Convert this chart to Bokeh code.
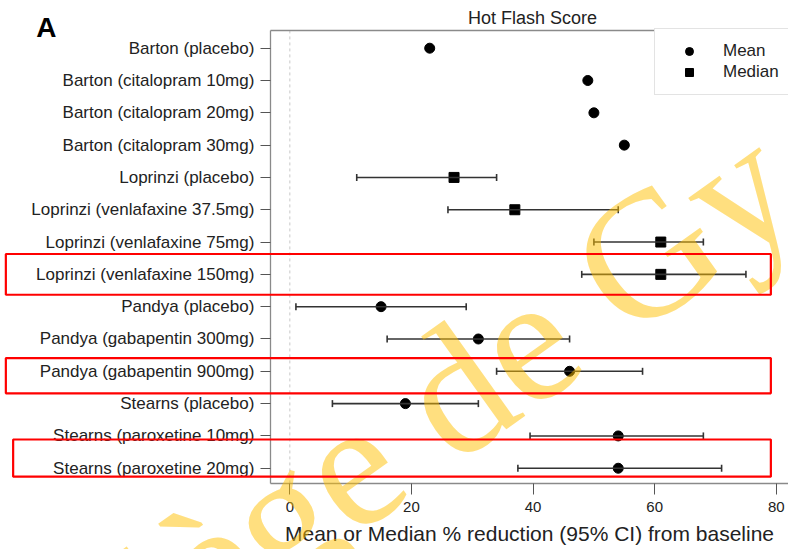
import math

from bokeh.embed import file_html
from bokeh.models import (BoxAnnotation, ColumnDataSource, FixedTicker, Label, Legend,
                          LegendItem, LinearAxis, Range1d, TeeHead, Whisker)
from bokeh.plotting import figure
from bokeh.resources import INLINE

# ---- data -------------------------------------------------------------
studies = [
    "Barton (placebo)",
    "Barton (citalopram 10mg)",
    "Barton (citalopram 20mg)",
    "Barton (citalopram 30mg)",
    "Loprinzi (placebo)",
    "Loprinzi (venlafaxine 37.5mg)",
    "Loprinzi (venlafaxine 75mg)",
    "Loprinzi (venlafaxine 150mg)",
    "Pandya (placebo)",
    "Pandya (gabapentin 300mg)",
    "Pandya (gabapentin 900mg)",
    "Stearns (placebo)",
    "Stearns (paroxetine 10mg)",
    "Stearns (paroxetine 20mg)",
]
estimate = [23, 49, 50, 55, 27, 37, 61, 61, 15, 31, 46, 19, 54, 54]
ci_lower = [None, None, None, None, 11, 26, 50, 48, 1, 16, 34, 7, 39.5, 37.5]
ci_upper = [None, None, None, None, 34, 54, 68, 75, 29, 46, 58, 31, 68, 71]
statistic = ["Mean"] * 4 + ["Median"] * 4 + ["Mean"] * 6
x_ticks = [0, 20, 40, 60, 80]
highlighted = [
    "Loprinzi (venlafaxine 150mg)",
    "Pandya (gabapentin 900mg)",
    "Stearns (paroxetine 20mg)",
]

rows = list(range(1, len(studies) + 1))

# ---- sources ------------------------------------------------------------
def pick(stat):
    idx = [i for i, s in enumerate(statistic) if s == stat]
    return ColumnDataSource(dict(row=[rows[i] for i in idx], est=[estimate[i] for i in idx]))

mean_src = pick("Mean")
median_src = pick("Median")
ci_idx = [i for i in range(len(studies)) if ci_lower[i] is not None]
ci_src = ColumnDataSource(dict(
    row=[rows[i] for i in ci_idx],
    lo=[ci_lower[i] for i in ci_idx],
    hi=[ci_upper[i] for i in ci_idx],
))

# ---- layout constants ---------------------------------------------------
INK = "#222222"
FRAME = "#8a8a8a"
FONT = "Liberation Sans"

# panel box in data units (the canvas itself is the plotting area, the
# axes sit at fixed positions inside it)
X_LO, X_HI = -3.2, 82.0
Y_TOP, Y_BOT = 0.45, 14.47

p = figure(
    width=788, height=549,
    x_range=Range1d(-47.58, 82.0),
    y_range=Range1d(16.515, -0.476),
    x_axis_type=None, y_axis_type=None,
    output_backend="svg", toolbar_location=None,
    min_border=0,
)
p.outline_line_color = None
p.background_fill_color = "white"
p.border_fill_color = "white"

# x axis along the bottom of the panel box
xa = LinearAxis(fixed_location=Y_BOT, bounds=(X_LO, X_HI))
xa.ticker = FixedTicker(ticks=x_ticks)
xa.axis_line_color = FRAME
xa.axis_line_width = 1.3
xa.major_tick_line_color = "#555555"
xa.major_tick_out = 11
xa.major_tick_in = 0
xa.minor_tick_line_color = None
xa.major_label_standoff = 8
xa.major_label_text_font = FONT
xa.major_label_text_font_size = "15px"
xa.major_label_text_color = INK
xa.axis_label = "Mean or Median % reduction (95% CI) from baseline"
xa.axis_label_text_font = FONT
xa.axis_label_text_font_size = "21px"
xa.axis_label_text_font_style = "normal"
xa.axis_label_text_color = INK
xa.axis_label_standoff = 6
p.add_layout(xa, "below")

# y axis with study labels along the left of the panel box
ya = LinearAxis(fixed_location=X_LO, bounds=(Y_TOP, Y_BOT))
ya.ticker = FixedTicker(ticks=rows)
ya.major_label_overrides = {r: s for r, s in zip(rows, studies)}
ya.axis_line_color = FRAME
ya.axis_line_width = 1.3
ya.major_tick_line_color = "#555555"
ya.major_tick_out = 10
ya.major_tick_in = 0
ya.minor_tick_line_color = None
ya.major_label_standoff = 6
ya.major_label_text_font = FONT
ya.major_label_text_font_size = "17px"
ya.major_label_text_color = INK
p.add_layout(ya, "left")

# top edge of the panel box
top = LinearAxis(fixed_location=Y_TOP, bounds=(X_LO, X_HI), ticker=FixedTicker(ticks=[]),
                 axis_line_color=FRAME, axis_line_width=1.3,
                 major_tick_line_color=None, minor_tick_line_color=None,
                 major_label_text_font_size="0px")
p.add_layout(top, "above")

# zero reference line
p.segment(x0=0, y0=Y_TOP, x1=0, y1=Y_BOT, line_color="#c8c8c8",
          line_dash="3 3", line_width=1, level="underlay")

# confidence intervals
p.add_layout(Whisker(
    source=ci_src, base="row", lower="lo", upper="hi", dimension="width",
    line_color="#333333", line_width=1.6, level="glyph",
    lower_head=TeeHead(size=7, line_color="#333333", line_width=1.6),
    upper_head=TeeHead(size=7, line_color="#333333", line_width=1.6),
))

# point estimates
mean_r = p.scatter(x="est", y="row", source=mean_src, marker="circle", size=10,
                   fill_color="black", line_color="black")
median_r = p.scatter(x="est", y="row", source=median_src, marker="square", size=10,
                     fill_color="black", line_color="black")

legend = Legend(
    items=[LegendItem(label="Mean", renderers=[mean_r]),
           LegendItem(label="Median", renderers=[median_r])],
    location=(654, 454),
    border_line_color="#c8c8c8", border_line_width=1,
    background_fill_color="white", background_fill_alpha=1,
    label_text_font=FONT, label_text_font_size="17px", label_text_color=INK,
    glyph_width=44, glyph_height=20, label_height=20, label_width=110,
    label_standoff=12, spacing=1, padding=12, margin=0,
)
p.add_layout(legend)

# title and panel letter
p.add_layout(Label(x=39.9, y=0.08, text="Hot Flash Score", text_align="center",
                   text_baseline="alphabetic", text_font=FONT, text_font_size="18px",
                   text_color=INK))
p.add_layout(Label(x=-41.7, y=0.36, text="A", text_align="left",
                   text_baseline="alphabetic", text_font=FONT, text_font_size="28px",
                   text_font_style="bold", text_color="black"))

# watermark
p.add_layout(Label(x=-59.8, y=23.3, text="Collège de Gy", angle=math.radians(35.5),
                   text_align="left", text_baseline="alphabetic",
                   text_font="Liberation Serif", text_font_size="180px",
                   text_color="#FFC000", text_alpha=0.5))

# highlight frames around selected rows
frame_spec = {
    "Loprinzi (venlafaxine 150mg)": (-46.7, 0.63, 0.63),
    "Pandya (gabapentin 900mg)": (-46.7, 0.41, 0.68),
    "Stearns (paroxetine 20mg)": (-45.5, 0.89, 0.26),
}
for name in highlighted:
    r = rows[studies.index(name)]
    left, up, down = frame_spec[name]
    p.add_layout(BoxAnnotation(left=left, right=79.1, top=r - up, bottom=r + down,
                               fill_color=None, fill_alpha=0, line_color="#ff0000",
                               line_alpha=1, line_width=2.2, level="overlay"))

open("out.html", "w").write(file_html(p, INLINE))
